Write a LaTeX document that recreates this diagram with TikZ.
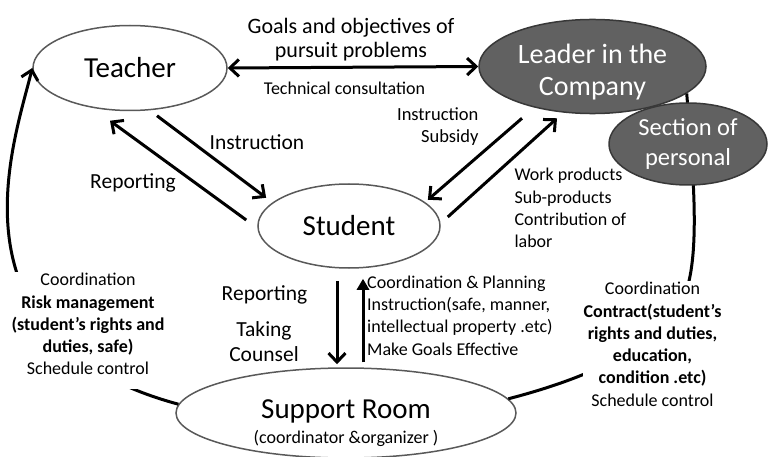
\documentclass[tikz,border=0pt]{standalone}
\usepackage{fontspec}
\setmainfont{Carlito}
\usetikzlibrary{arrows.meta, shapes.geometric}

\begin{document}
\begin{tikzpicture}[
    x=1pt, y=-1pt,
    >={Straight Barb[length=9pt, width=17pt]},
    every node/.style={font=\fontsize{18}{22.3}\selectfont},
    party/.style={
        ellipse,
        draw=black!65,
        line width=1.5pt,
        fill=white,
        inner sep=0pt,
        align=center,
        font=\fontsize{29}{32}\selectfont
    },
    company/.style={party, fill=black!62, draw=black!78, text=white},
    flow/.style={->, line width=3pt},
    note/.style={fill=white, inner sep=1pt, align=center, anchor=north},
    say/.style={font=\fontsize{21.5}{25}\selectfont}
]
    \useasboundingbox (0, 0) rectangle (768, 457);

    % Parties
    \node[party, minimum width=194pt, minimum height=85pt] (teacher) at (130, 68) {Teacher};
    \node[company, minimum width=227pt, minimum height=93pt, font=\fontsize{28}{32}\selectfont] (leader) at (592.5, 66.5) {\rule{0pt}{30pt}Leader in the\\Company};
    \node[party, minimum width=182pt, minimum height=84pt] (student) at (349, 226) {Student};
    \node[party, minimum width=340pt, minimum height=90pt] (support) at (346, 413) {};
    \node[align=center] (supporttext) at (346, 423) {{\fontsize{29}{32}\selectfont Support Room}\\[2pt](coordinator \&organizer )};

    % Coordination loops
    \draw[flow] (support.177) .. controls (-60, 340) and (15, 140) .. (teacher.west);
    \draw[line width=3pt] (leader.-16) .. controls (692, 160) and (700, 240) .. (688, 285)
        .. controls (670, 340) and (600, 375) .. (support.5);

    \node[company, minimum width=158pt, minimum height=82pt, font=\fontsize{24.5}{30}\selectfont] (section) at (688, 144) {Section of\\personal};

    % Flows
    \draw[flow, <->] (teacher.east) -- (leader.west);
    \draw[flow] ([shift={(27, 4.5)}]teacher.south) -- ([shift={(-18, 2)}]student.north west);
    \draw[flow] ([shift={(-11, -6)}]student.west) -- ([shift={(-20, 9.5)}]teacher.south);
    \draw[flow] ([shift={(-70.5, 4)}]leader.south) -- ([shift={(14, 4)}]student.north east);
    \draw[flow] ([shift={(7, -9)}]student.east) -- ([shift={(-35.5, 4)}]leader.south);
    \draw[flow] ([shift={(-12, 12)}]student.south) -- ([shift={(-9, -3)}]support.north);
    \draw[line width=3pt, -{Triangle[length=11pt, width=12pt]}] ([shift={(17, -5)}]support.north) -- ([shift={(14, 10)}]student.south);

    % Labels
    \node[align=center, font=\fontsize{22}{24}\selectfont] (goals) at (351, 39.5) {Goals and objectives of\\pursuit problems};
    \node (consult) at (344.5, 88) {Technical consultation};
    \node[say] (instr) at (257, 142) {Instruction};
    \node[say] (report) at (133, 183) {Reporting};
    \node[anchor=east, align=right, font=\fontsize{18.5}{22}\selectfont] (subsidy) at (482, 126.5) {Instruction\\Subsidy};
    \node[anchor=west, align=left] (products) at (511, 208) {Work products\\Sub-products\\Contribution of\\labor};
    \node[say] (report2) at (264.5, 295) {Reporting};
    \node[say, align=center] (counsel) at (264, 342) {Taking\\Counsel};
    \node[anchor=west, align=left, inner sep=1pt] (planning) at (366, 315.5) {Coordination \& Planning\\Instruction(safe, manner,\\intellectual property .etc)\\Make Goals Effective};

    \node[note] (risk) at (88, 272) {Coordination\\\textbf{Risk management}\\\textbf{(student’s rights and}\\\textbf{duties, safe)}\\Schedule control\\[-9pt]\mbox{}};
    \node[note] (contract) at (652.5, 281) {Coordination\\\textbf{Contract(student’s}\\\textbf{rights and duties,}\\\textbf{education,}\\\textbf{condition .etc)}\\Schedule control};

\end{tikzpicture}
\end{document}
